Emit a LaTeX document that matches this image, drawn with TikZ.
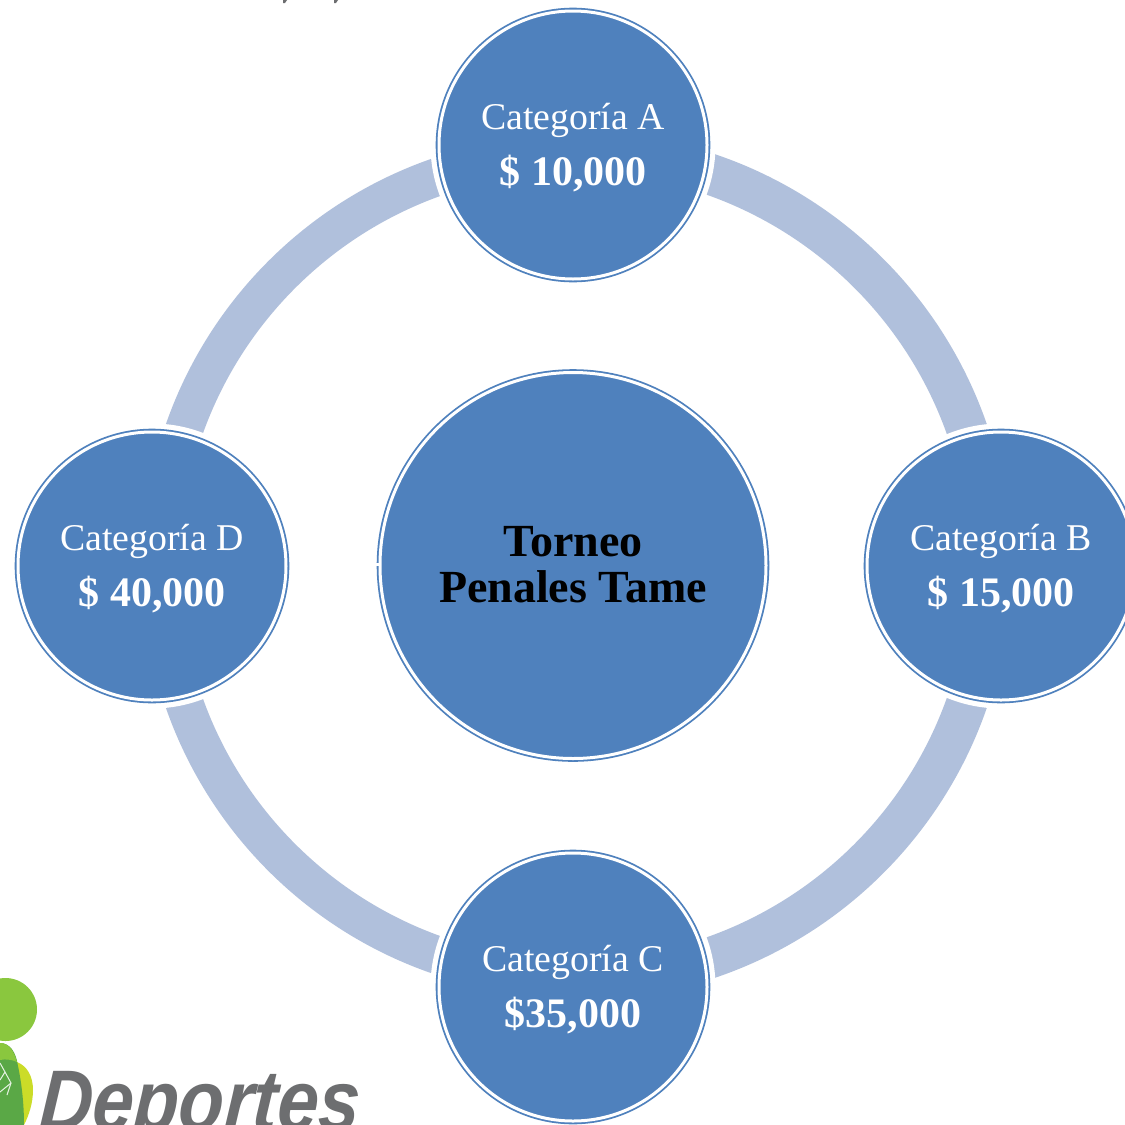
\documentclass[tikz,border=0pt]{standalone}
\usepackage{fontspec}
\setmainfont{Liberation Serif}
\newfontfamily\logofont{Liberation Sans}
\definecolor{nodeblue}{HTML}{4F81BD}
\definecolor{ringblue}{HTML}{B0C0DC}
\definecolor{logolime}{HTML}{8AC73E}
\definecolor{logogreen}{HTML}{5AA846}
\definecolor{logoyellow}{HTML}{CBDC28}
\definecolor{logogrey}{HTML}{6D6E70}
\tikzset{
  disc/.style={circle,draw=nodeblue,fill=nodeblue,line width=1.8pt,double=white,double distance=3pt,inner sep=0pt},
  smalldisc/.style={disc,minimum size=268pt,preaction={draw=white,line width=17pt}},
  bigdisc/.style={disc,minimum size=386pt},
  cattext/.style={anchor=base,text=white,font=\fontsize{37.8}{38}\selectfont,inner sep=0pt},
  amttext/.style={anchor=base,text=white,font=\fontsize{42}{42}\selectfont\bfseries,inner sep=0pt},
  titletext/.style={anchor=base,text=black,font=\fontsize{46}{46}\selectfont\bfseries,inner sep=0pt},
  ballline/.style={draw=white!85!logogreen,line width=1pt},
  logotext/.style={anchor=base west,text=logogrey,inner sep=0pt,font=\logofont\fontsize{86}{86}\selectfont\bfseries\itshape,xscale=.86,xslant=.08,transform shape}
}
\begin{document}
\begin{tikzpicture}[x=1pt,y=-1pt]
\clip (0,0) rectangle (1125,1125);
\fill[white] (0,0) rectangle (1125,1125);
% cropped text fragments at the top edge
\fill[logogrey] (283,0) -- (287,0) -- (285,3) -- (283,3) -- cycle;
\fill[logogrey] (334,0) -- (338,0) -- (336,3) -- (334,3) -- cycle;
% ring, slightly wider and offset on its right half
\coordinate (ctr) at (573,566);
\coordinate (ctrr) at (576,566);
\begin{scope}
  \clip (0,0) rectangle (573,1125);
  \draw[draw=ringblue,line width=38pt] (ctr) circle (412);
\end{scope}
\begin{scope}
  \clip (573,0) rectangle (1125,1125);
  \draw[draw=ringblue,line width=41pt] (ctrr) circle (414);
\end{scope}
% nodes
\node[bigdisc] (main) at (573,565.5) {};
\fill[white] (376,563) rectangle (380,566);
\node[smalldisc] (a) at (573,145) {};
\node[smalldisc] (b) at (1001,566) {};
\node[smalldisc] (c) at (573,987) {};
\node[smalldisc] (d) at (152,566) {};
% labels
\node[cattext] (atxt) at (573,129.5) {Categoría A};
\node[amttext] (aamt) at (573,185) {\$ 10,000};
\node[cattext] (btxt) at (1001,550.5) {Categoría B};
\node[amttext] (bamt) at (1001,606) {\$ 15,000};
\node[cattext] (ctxt) at (573,971.5) {Categoría C};
\node[amttext] (camt) at (573,1027) {\$35,000};
\node[cattext] (dtxt) at (152,550.5) {Categoría D};
\node[amttext] (damt) at (152,606) {\$ 40,000};
\node[titletext] (t1) at (573,556) {Torneo};
\node[titletext] (t2) at (573,602) {Penales Tame};
% logo
\fill[logolime] (5.5,1009.5) circle (31.5);
\fill[logoyellow] (17,1062) .. controls (27,1066) and (33,1076) .. (33,1090) .. controls (33,1103) and (29,1115) .. (24,1125) -- (10,1125) -- cycle;
\fill[logogreen] (0,1043) .. controls (10,1043) and (16,1052) .. (18,1066) .. controls (22,1085) and (24,1105) .. (24,1125) -- (0,1125) -- cycle;
\fill[logolime] (0,1043) .. controls (9,1043) and (14,1051) .. (17,1062) .. controls (10,1059) and (5,1059) .. (0,1060) -- cycle;
\draw[ballline] (0,1063) -- (5,1072) -- (0,1080);
\draw[ballline] (5,1072) -- (11,1083) -- (7,1095);
\draw[ballline] (11,1083) -- (0,1092);
\node[logotext] (logo) at (38,1130) {Deportes};
\end{tikzpicture}
\end{document}
